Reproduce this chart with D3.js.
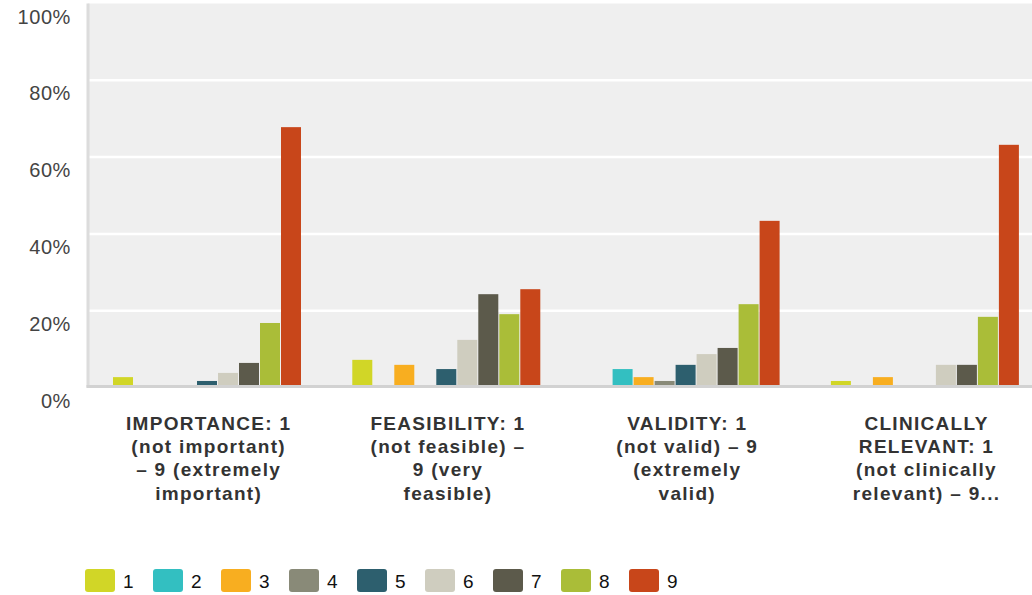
<!DOCTYPE html>
<html>
<head>
<meta charset="utf-8">
<title>Survey ratings</title>
<script src="https://d3js.org/d3.v7.min.js"></script>
<style>
    body { margin: 0; background: #fff; }
    svg { display: block; font-family: "Liberation Sans", Arial, sans-serif; }
    .y-label { font-size: 20px; fill: #444; text-anchor: end; letter-spacing: 0.6px; }
    .cat-label { font-size: 19px; font-weight: bold; fill: #333; text-anchor: middle; letter-spacing: 1.3px; }
    .legend-label { font-size: 19px; fill: #111; }
</style>
</head>
<body>
<svg width="1032" height="595"></svg>
<script>
    // categories (wrapped as in the reference)
    const categories = ["importance", "feasibility", "validity", "clinical"];
    const categoryLines = [
        ["IMPORTANCE: 1", "(not important)", "\u2013 9 (extremely", "important)"],
        ["FEASIBILITY: 1", "(not feasible) \u2013", "9 (very", "feasible)"],
        ["VALIDITY: 1", "(not valid) \u2013 9", "(extremely", "valid)"],
        ["CLINICALLY", "RELEVANT: 1", "(not clinically", "relevant) \u2013 9..."]
    ];

    const ratings = ["1", "2", "3", "4", "5", "6", "7", "8", "9"];
    const colors = ["#d1d627", "#33bfc1", "#f8ae20", "#898a78", "#2d5f6e",
                    "#cfcdbf", "#5c5a4b", "#aabd38", "#c8461a"];

    // percent of answers for ratings 1..9
    const importance  = [2.7, 0, 0, 0, 1.7, 3.8, 6.4, 16.8, 67.8];
    const feasibility = [7.2, 0, 5.9, 0, 4.8, 12.4, 24.3, 19.1, 25.6];
    const validity    = [0, 4.8, 2.7, 1.7, 5.9, 8.7, 10.3, 21.7, 43.4];
    const clinical    = [1.7, 0, 2.7, 0, 0, 5.9, 5.9, 18.4, 63.2];

    const yTicks = [0, 20, 40, 60, 80, 100];

    const seriesByCat = [importance, feasibility, validity, clinical];
    const data = categories.map((c, i) => ({
        cat: c,
        values: ratings.map((r, j) => ({ key: r, value: seriesByCat[i][j] }))
    }));

    const svg = d3.select("svg");
    const plotLeft = 88, plotRight = 1032;

    const x0 = d3.scaleBand()
        .domain(categories)
        .range([plotLeft, plotLeft + 4 * 239.3]);

    const x1 = d3.scaleBand()
        .domain(ratings)
        .range([25, 213])
        .paddingInner(1 / 21);

    const y = d3.scaleLinear()
        .domain([0, 100])
        .range([387.5, 3.5]);

    const color = d3.scaleOrdinal().domain(ratings).range(colors);

    // plot background
    svg.append("rect")
        .attr("x", plotLeft)
        .attr("y", y(100))
        .attr("width", plotRight - plotLeft)
        .attr("height", y(0) - y(100))
        .attr("fill", "#efefef");

    // gridlines
    svg.append("g")
        .selectAll("line")
        .data(yTicks.filter(t => t > 0 && t < 100))
        .join("line")
        .attr("x1", plotLeft)
        .attr("x2", plotRight)
        .attr("y1", d => y(d))
        .attr("y2", d => y(d))
        .attr("stroke", "#fff")
        .attr("stroke-width", 2.5);

    // left border
    svg.append("line")
        .attr("x1", plotLeft)
        .attr("x2", plotLeft)
        .attr("y1", y(100))
        .attr("y2", y(0))
        .attr("stroke", "#dcdcdc")
        .attr("stroke-width", 3);

    // y labels (sit a bit under their gridline, as in the original)
    svg.append("g")
        .selectAll("text")
        .data(yTicks)
        .join("text")
        .attr("class", "y-label")
        .attr("x", 71)
        .attr("y", d => y(d) + 20)
        .text(d => d + "%");

    // bars
    const groups = svg.append("g")
        .selectAll("g")
        .data(data)
        .join("g")
        .attr("transform", d => `translate(${x0(d.cat)},0)`);

    groups.selectAll("rect")
        .data(d => d.values.filter(v => v.value > 0))
        .join("rect")
        .attr("x", d => x1(d.key))
        .attr("y", d => y(d.value))
        .attr("width", x1.bandwidth())
        .attr("height", d => y(0) - y(d.value))
        .attr("fill", d => color(d.key));

    // bottom axis line
    svg.append("line")
        .attr("x1", plotLeft - 1.5)
        .attr("x2", plotRight)
        .attr("y1", y(0) - 1)
        .attr("y2", y(0) - 1)
        .attr("stroke", "#d2d2d2")
        .attr("stroke-width", 3);

    // category labels
    const labels = svg.append("g")
        .selectAll("text")
        .data(categories)
        .join("text")
        .attr("class", "cat-label")
        .attr("x", d => x0(d) + x0.bandwidth() / 2 + 1)
        .attr("y", 430);

    labels.selectAll("tspan")
        .data((d, i) => categoryLines[i])
        .join("tspan")
        .attr("x", function () { return this.parentNode.getAttribute("x"); })
        .attr("dy", (d, i) => i === 0 ? 0 : 23.2)
        .text(d => d);

    // legend
    const legend = svg.append("g")
        .selectAll("g")
        .data(ratings)
        .join("g")
        .attr("transform", (d, i) => `translate(${85 + i * 68},569)`);

    legend.append("rect")
        .attr("width", 30)
        .attr("height", 23)
        .attr("rx", 3)
        .attr("fill", d => color(d));

    legend.append("text")
        .attr("class", "legend-label")
        .attr("x", 38)
        .attr("y", 18.5)
        .text(d => d);
</script>
</body>
</html>
